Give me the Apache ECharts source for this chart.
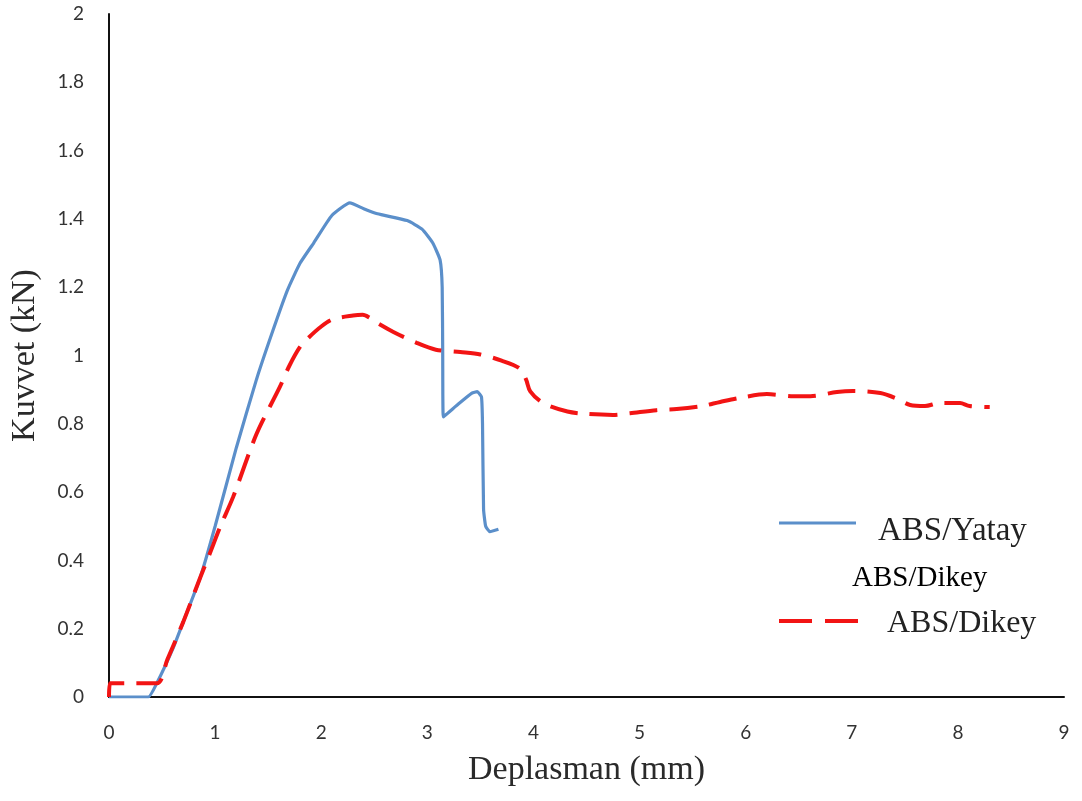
<!DOCTYPE html>
<html>
<head>
<meta charset="utf-8">
<script src="https://cdn.jsdelivr.net/npm/echarts@6/dist/echarts.min.js"></script>
<style>
html,body{margin:0;padding:0;background:#fff;}
#chart{width:1082px;height:801px;}
</style>
</head>
<body>
<div id="chart"></div>
<script>
// Data
const yatayX = [0, 0.37, 0.45, 0.6, 0.7, 0.86, 1.0, 1.2, 1.39, 1.53, 1.68, 1.8, 1.93, 2.1, 2.27, 2.4, 2.53, 2.81, 2.95, 3.05, 3.12, 3.14, 3.145, 3.15, 3.3, 3.42, 3.47, 3.51, 3.52, 3.53, 3.55, 3.59, 3.67];
const yatayY = [0, 0, 0.04, 0.14, 0.22, 0.35, 0.5, 0.73, 0.93, 1.06, 1.19, 1.27, 1.33, 1.41, 1.447, 1.43, 1.415, 1.395, 1.37, 1.33, 1.28, 1.2, 1.0, 0.82, 0.86, 0.89, 0.894, 0.879, 0.8, 0.55, 0.5, 0.484, 0.491];
const dikeyX = [0, 0.01, 0.45, 0.55, 0.7, 0.86, 0.95, 1.05, 1.17, 1.39, 1.61, 1.7, 1.8, 1.88, 2.0, 2.11, 2.3, 2.39, 2.46, 2.53, 2.68, 2.9, 3.08, 3.31, 3.5, 3.7, 3.87, 3.93, 3.97, 4.09, 4.32, 4.5, 4.75, 4.91, 5.16, 5.35, 5.59, 5.76, 5.98, 6.2, 6.45, 6.61, 6.86, 7.01, 7.27, 7.43, 7.55, 7.69, 7.83, 8.02, 8.11, 8.3];
const dikeyY = [0, 0.04, 0.04, 0.11, 0.22, 0.35, 0.42, 0.5, 0.586, 0.77, 0.908, 0.97, 1.025, 1.052, 1.085, 1.106, 1.117, 1.119, 1.11, 1.095, 1.069, 1.037, 1.017, 1.01, 1.003, 0.985, 0.962, 0.93, 0.895, 0.861, 0.836, 0.829, 0.826, 0.831, 0.84, 0.843, 0.852, 0.864, 0.878, 0.887, 0.881, 0.881, 0.893, 0.896, 0.89, 0.873, 0.855, 0.852, 0.861, 0.861, 0.852, 0.849];
const seriesNames = ['ABS/Yatay', 'ABS/Dikey'];
const xTitle = 'Deplasman (mm)';
const yTitle = 'Kuvvet (kN)';

const pair = (xs, ys) => xs.map((x, i) => [x, ys[i]]);
const BLUE = '#5b8fca';
const RED = '#f21414';

const chart = echarts.init(document.getElementById('chart'), null, {renderer: 'canvas'});
chart.setOption({
  animation: false,
  backgroundColor: '#ffffff',
  grid: {left: 109, right: 18, top: 14, bottom: 104},
  xAxis: {
    type: 'value', min: 0, max: 9, interval: 1,
    name: xTitle, nameLocation: 'middle', nameGap: 56,
    nameTextStyle: {fontFamily: 'Liberation Serif', fontSize: 34, color: '#2a2a2a'},
    axisLine: {show: true, lineStyle: {color: '#111', width: 2}},
    axisTick: {show: false},
    splitLine: {show: false},
    axisLabel: {margin: 26, fontFamily: 'Lato', fontSize: 19, color: '#333'}
  },
  yAxis: {
    type: 'value', min: 0, max: 2, interval: 0.2,
    name: yTitle, nameLocation: 'middle', nameGap: 67,
    nameTextStyle: {fontFamily: 'Liberation Serif', fontSize: 34, color: '#2a2a2a'},
    axisLine: {show: true, lineStyle: {color: '#111', width: 2}},
    axisTick: {show: false},
    splitLine: {show: false},
    axisLabel: {margin: 25, fontFamily: 'Lato', fontSize: 19, color: '#333'}
  },
  series: [
    {
      name: seriesNames[0], type: 'line', data: pair(yatayX, yatayY),
      showSymbol: false, symbol: 'none', smooth: 0.15, z: 3,
      lineStyle: {color: BLUE, width: 3.2}
    },
    {
      name: seriesNames[1], type: 'line', data: pair(dikeyX, dikeyY),
      showSymbol: false, symbol: 'none', smooth: 0.3, z: 4,
      lineStyle: {color: RED, width: 4, type: [28, 12]}
    }
  ],
  graphic: [
    {type: 'line', shape: {x1: 779, y1: 523, x2: 856, y2: 523}, style: {stroke: BLUE, lineWidth: 3.2}},
    {type: 'text', style: {x: 878, y: 531, text: seriesNames[0], font: '33px "Liberation Serif"', fill: '#222', verticalAlign: 'middle'}},
    {type: 'text', style: {x: 852, y: 578, text: seriesNames[1], font: '29px "Liberation Serif"', fill: '#000', verticalAlign: 'middle'}},
    {type: 'line', shape: {x1: 779, y1: 621, x2: 812, y2: 621}, style: {stroke: RED, lineWidth: 4}},
    {type: 'line', shape: {x1: 825, y1: 621, x2: 858, y2: 621}, style: {stroke: RED, lineWidth: 4}},
    {type: 'text', style: {x: 887, y: 624, text: seriesNames[1], font: '32px "Liberation Serif"', fill: '#222', verticalAlign: 'middle'}}
  ]
});
</script>
</body>
</html>
